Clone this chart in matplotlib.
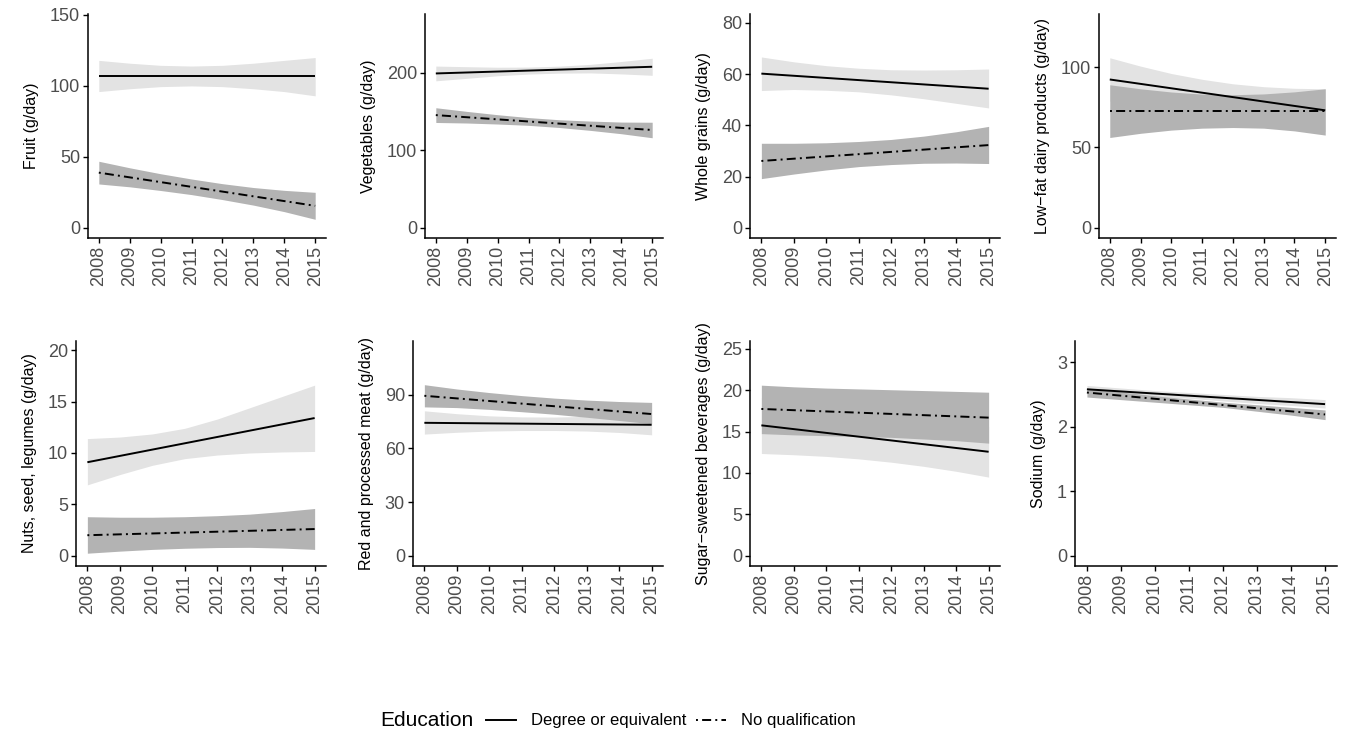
import matplotlib
matplotlib.use('Agg')
import matplotlib.pyplot as plt
from matplotlib.lines import Line2D

plt.rcParams['font.family'] = ['Liberation Sans', 'DejaVu Sans']
plt.rcParams['lines.scale_dashes'] = False

years = [2008, 2009, 2010, 2011, 2012, 2013, 2014, 2015]
groups = ['Degree or equivalent', 'No qualification']

ylabels = ['Fruit (g/day)', 'Vegetables (g/day)', 'Whole grains (g/day)',
           'Low\u2212fat dairy products (g/day)', 'Nuts, seed, legumes (g/day)',
           'Red and processed meat (g/day)', 'Sugar\u2212sweetened beverages (g/day)',
           'Sodium (g/day)']
yticks = [[0, 50, 100, 150], [0, 100, 200], [0, 20, 40, 60, 80], [0, 50, 100],
          [0, 5, 10, 15, 20], [0, 30, 60, 90], [0, 5, 10, 15, 20, 25], [0, 1, 2, 3]]
ytop = [143.5, 262.5, 79.5, 126.7, 19.9, 114.3, 24.7, 3.17]

# fitted lines (2008, 2015)
deg_fit = [[107, 107], [199, 207.6], [60.2, 54.3], [92.3, 73.1],
           [9.1, 13.4], [74.3, 73.2], [15.75, 12.56], [2.58, 2.35]]
noq_fit = [[38.9, 15.5], [145.3, 126.1], [26.1, 32.3], [72.7, 72.7],
           [2.0, 2.6], [89.4, 79.2], [17.73, 16.68], [2.53, 2.19]]

# confidence bands, one value per year
deg_hi = [[118, 116, 114.5, 114, 114.5, 116, 118, 120],
          [208.5, 207.7, 207, 207.2, 208.4, 210.7, 214.4, 218.6],
          [66.7, 64.8, 63.3, 62.3, 61.7, 61.6, 61.7, 62.0],
          [105.8, 100.6, 96, 92.4, 89.6, 87.8, 86.8, 86.5],
          [11.4, 11.55, 11.85, 12.4, 13.3, 14.4, 15.5, 16.6],
          [81, 79.4, 78.2, 77.6, 77.5, 77.9, 78.6, 78.8],
          [19.1, 18.3, 17.6, 17.1, 16.7, 16.4, 16.1, 15.6],
          [2.64, 2.6, 2.56, 2.53, 2.5, 2.47, 2.45, 2.42]]
deg_lo = [[96, 98, 99.5, 100, 99.5, 98, 96, 93],
          [189.5, 192.7, 196, 198.2, 199.4, 199.7, 198.4, 196.6],
          [53.6, 54, 53.7, 53.1, 51.9, 50.4, 48.6, 46.8],
          [78.8, 78.6, 77.6, 75.8, 73, 69.4, 64.8, 59.7],
          [6.9, 7.9, 8.8, 9.45, 9.8, 10.0, 10.1, 10.15],
          [68, 69, 69.7, 70, 70, 69.7, 68.9, 67.6],
          [12.35, 12.2, 12.0, 11.7, 11.3, 10.8, 10.2, 9.5],
          [2.52, 2.5, 2.47, 2.44, 2.4, 2.36, 2.33, 2.29]]
noq_hi = [[46.9, 42.3, 38.1, 34.4, 31.1, 28.4, 26.4, 25.0],
          [154.8, 150.1, 145.8, 142.1, 139.3, 137.6, 136.3, 136.1],
          [33, 33, 33.2, 33.7, 34.5, 35.8, 37.5, 39.6],
          [89, 86.5, 84.5, 83.2, 82.8, 83.3, 84.6, 86.5],
          [3.8, 3.75, 3.75, 3.8, 3.9, 4.05, 4.3, 4.6],
          [95.6, 93.2, 91.2, 89.5, 88.1, 87.0, 86.2, 85.7],
          [20.6, 20.4, 20.25, 20.15, 20.05, 19.95, 19.85, 19.75],
          [2.6, 2.54, 2.48, 2.43, 2.38, 2.34, 2.3, 2.26]]
noq_lo = [[30.9, 28.9, 26.3, 23.4, 19.9, 16.0, 11.4, 6.0],
          [135.8, 135.1, 133.8, 132.1, 129.3, 125.6, 121.3, 116.1],
          [19.2, 21, 22.6, 23.9, 24.7, 25.2, 25.3, 25.1],
          [56.2, 58.8, 60.8, 62, 62.4, 62, 60.3, 57.7],
          [0.25, 0.45, 0.62, 0.73, 0.8, 0.82, 0.75, 0.62],
          [83.2, 82.8, 81.8, 80.5, 79.1, 77.4, 75.6, 73.8],
          [14.75, 14.6, 14.5, 14.4, 14.3, 14.1, 13.9, 13.6],
          [2.46, 2.42, 2.38, 2.34, 2.3, 2.24, 2.18, 2.11]]

W, H = 1347, 737
# axes boxes in pixels: left, right, top, bottom
boxes = [(88, 326, 14, 238), (425, 663, 14, 238), (750, 1000, 14, 238), (1099, 1336, 14, 238),
         (76, 326, 341, 566), (413, 663, 341, 566), (750, 1000, 341, 566), (1075, 1337, 341, 566)]

light = '#e3e3e3'
dark = '#b3b3b3'
dotdash = (0, (1.4, 3.0, 6.5, 3.0))

fig = plt.figure(figsize=(W / 100, H / 100), dpi=100)

for i in range(8):
    l, r, t, b = boxes[i]
    ax = fig.add_axes([l / W, 1 - b / H, (r - l) / W, (b - t) / H])
    ax.fill_between(years, deg_lo[i], deg_hi[i], color=light, lw=0)
    ax.fill_between(years, noq_lo[i], noq_hi[i], color=dark, lw=0)
    ax.plot([years[0], years[-1]], deg_fit[i], color='black', lw=1.4, solid_capstyle='butt')
    ax.plot([years[0], years[-1]], noq_fit[i], color='black', lw=1.4, linestyle=dotdash)
    ax.set_xlim(2008 - 0.35, 2015 + 0.35)
    ax.set_ylim(-0.05 * ytop[i], 1.05 * ytop[i])
    ax.set_xticks(years)
    ax.set_xticklabels([str(y) for y in years], rotation=90)
    ax.set_yticks(yticks[i])
    ax.set_ylabel(ylabels[i], fontsize=11.5, labelpad=8)
    for s in ['top', 'right']:
        ax.spines[s].set_visible(False)
    for s in ['left', 'bottom']:
        ax.spines[s].set_linewidth(1.1)
    ax.tick_params(length=3.8, width=1.0, labelsize=13, labelcolor='#4d4d4d', pad=2)

fig.text(380 / W, 1 - 721 / H, 'Education', fontsize=15, va='center', ha='left')
handles = [Line2D([], [], color='black', lw=1.4),
           Line2D([], [], color='black', lw=1.4, linestyle=dotdash)]
fig.legend(handles, groups, loc='center left', bbox_to_anchor=(486 / W, 1 - 721 / H),
           ncol=2, frameon=False, fontsize=12, handlelength=1.8, handletextpad=0.9,
           columnspacing=0.6, borderpad=0, borderaxespad=0)

fig.savefig('out.png', dpi=100)
